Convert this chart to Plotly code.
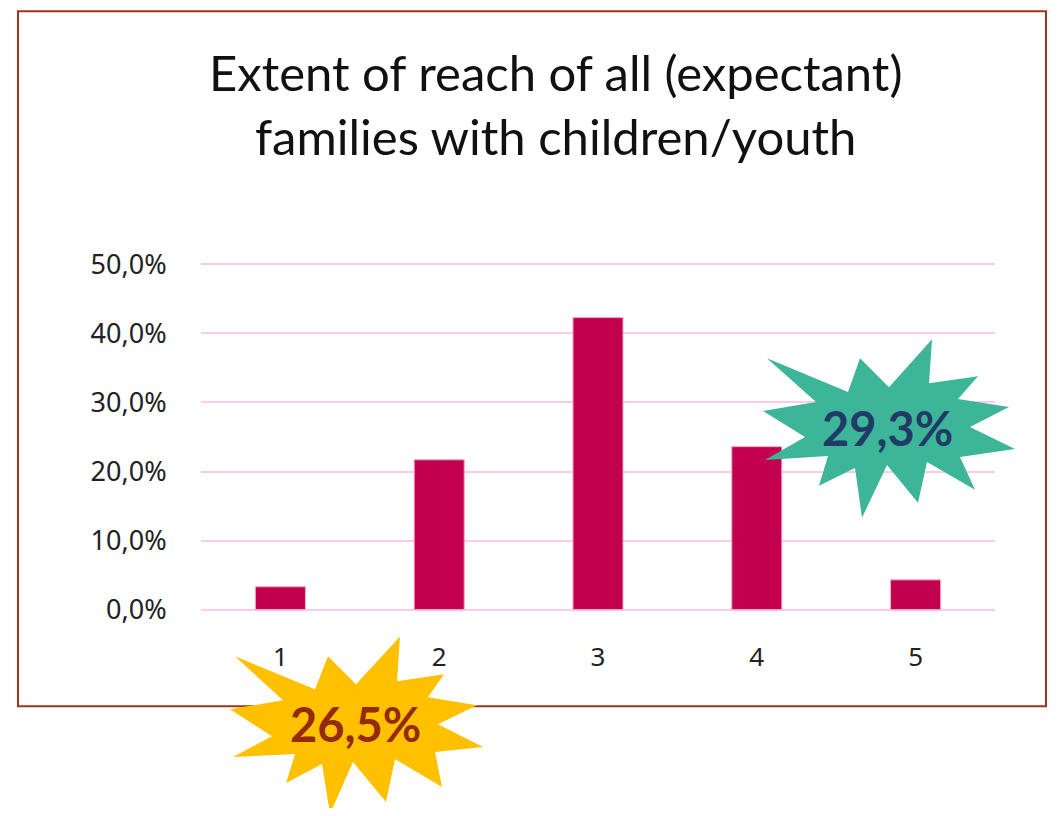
import plotly.graph_objects as go

categories = ["1", "2", "3", "4", "5"]
shares = [3.3, 21.7, 42.3, 23.6, 4.3]
y_ticks = [0, 10, 20, 30, 40, 50]
y_tick_text = ["0,0%", "10,0%", "20,0%", "30,0%", "40,0%", "50,0%"]
title_text = "Extent of reach of all (expectant)<br>families with children/youth"
burst_teal_label = "29,3%"
burst_yellow_label = "26,5%"

# page body has an 8px margin, so the figure is shifted by that much
OFF = 8
W, H = 1058 - 2 * OFF, 816 - 2 * OFF
PL, PR, PT, PB = 201, 995, 260.5, 613.5  # plot area in page pixels


def px(x, y):
    return (x - PL) / (PR - PL), (PB - y) / (PB - PT)


def star_path(pts):
    conv = [px(x, y) for x, y in pts]
    return "M " + " L ".join(f"{a:.4f},{b:.4f}" for a, b in conv) + " Z"


teal_star = [
    (767, 358), (848, 392), (860, 358), (889, 387), (932, 339), (929, 383),
    (978, 376), (958, 399), (1009, 407), (970, 427), (1015, 449), (960, 457),
    (975, 490), (927, 462), (918, 503), (887, 465), (862, 518), (855, 468),
    (819, 486), (828, 456), (765, 460), (805, 437), (763, 411), (816, 402),
]
yellow_star = [
    (235, 657), (315, 690), (328, 657), (356, 685), (400, 637), (397, 682),
    (444, 675), (428, 698), (477, 706), (438, 725), (483, 748), (435, 753),
    (442, 788), (395, 760), (386, 803), (353, 763), (330, 815), (322, 765),
    (286, 784), (295, 755), (233, 758), (272, 737), (230, 710), (283, 701),
]

fig = go.Figure(
    go.Bar(
        x=categories,
        y=shares,
        marker=dict(color="#C2004F", line=dict(color="#F4A6C6", width=1)),
        hoverinfo="skip",
    )
)

bx0, by0 = px(18, 707)
bx1, by1 = px(1046, 10)

fig.update_layout(
    width=W,
    height=H,
    margin=dict(l=PL - OFF, r=W - (PR - OFF), t=PT - OFF, b=H - (PB - OFF), pad=0),
    paper_bgcolor="white",
    plot_bgcolor="white",
    bargap=0.685,
    showlegend=False,
    font=dict(family="Noto Sans, sans-serif", color="#222222"),
    xaxis=dict(
        showgrid=False,
        showline=False,
        ticks="outside",
        ticklen=21,
        tickcolor="rgba(0,0,0,0)",
        tickfont=dict(size=26, color="#222222"),
    ),
    yaxis=dict(
        range=[-0.5, 50.5],
        tickvals=y_ticks,
        ticktext=y_tick_text,
        showgrid=True,
        gridcolor="#FFCCE3",
        gridwidth=2,
        zeroline=True,
        zerolinecolor="#FFCCE3",
        zerolinewidth=2,
        showline=False,
        ticks="outside",
        ticklen=28,
        tickcolor="rgba(0,0,0,0)",
        tickfont=dict(size=27, color="#222222"),
    ),
    shapes=[
        dict(
            type="rect", xref="paper", yref="paper",
            x0=bx0, y0=by0, x1=bx1, y1=by1,
            line=dict(color="#A33218", width=2), layer="below",
        ),
        dict(
            type="path", xref="paper", yref="paper",
            path=star_path(teal_star),
            fillcolor="#3DB598", line=dict(width=0), layer="above",
        ),
        dict(
            type="path", xref="paper", yref="paper",
            path=star_path(yellow_star),
            fillcolor="#FFC000", line=dict(width=0), layer="above",
        ),
    ],
)

tx, ty = px(555, 103)
fig.add_annotation(
    x=tx, y=ty, xref="paper", yref="paper", showarrow=False,
    xanchor="center", yanchor="middle",
    text=title_text, align="center",
    font=dict(family="Lato, sans-serif", size=49, color="#111111"),
)
ax, ay = px(887, 428)
fig.add_annotation(
    x=ax, y=ay, xref="paper", yref="paper", showarrow=False,
    xanchor="center", yanchor="middle",
    text=f"<b>{burst_teal_label}</b>",
    font=dict(family="Lato, sans-serif", size=47, color="#1F3B66"),
)
ax, ay = px(355, 725)
fig.add_annotation(
    x=ax, y=ay, xref="paper", yref="paper", showarrow=False,
    xanchor="center", yanchor="middle",
    text=f"<b>{burst_yellow_label}</b>",
    font=dict(family="Lato, sans-serif", size=47, color="#932A0C"),
)

fig.write_html("out.html")
